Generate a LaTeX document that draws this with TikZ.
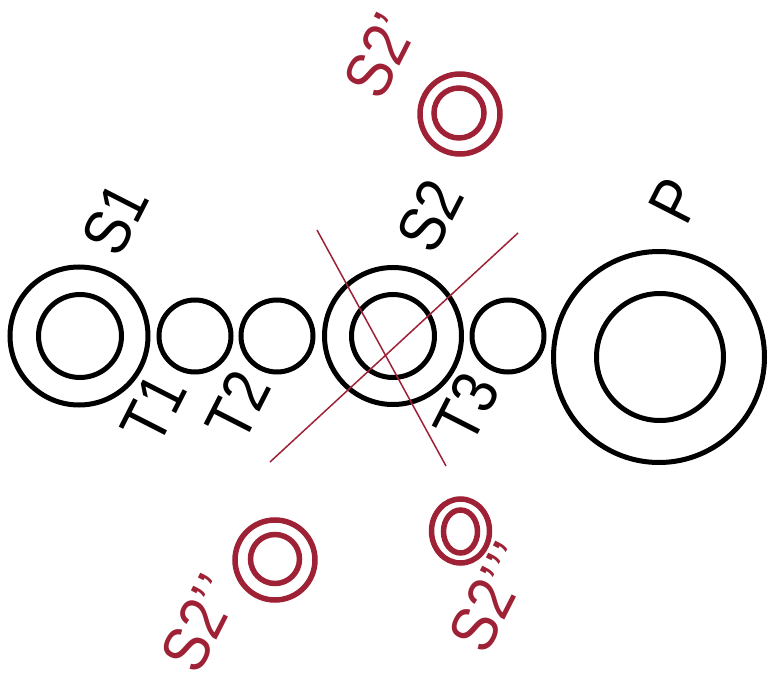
\documentclass[tikz,border=0pt]{standalone}
\usepackage{fontspec}
\setmainfont{Liberation Sans}[FakeStretch=0.87]
\usetikzlibrary{shapes.geometric, positioning, calc}
\definecolor{wine}{RGB}{158,33,54}
\tikzset{
    ring/.style={draw=black, line width=5pt, circle, inner sep=0pt, minimum size=#1},
    redring/.style={draw=wine, line width=5.5pt, circle, inner sep=0pt, minimum size=#1},
    redoval/.style={draw=wine, line width=5.5pt, ellipse, inner sep=0pt},
    tag/.style={rotate=63, inner sep=0pt, font=\fontsize{65}{65}\selectfont},
    redtag/.style={tag, text=wine},
    crossline/.style={draw=wine, line width=1.5pt}
}
\begin{document}
\begin{tikzpicture}[x=1pt, y=-1pt]
        \useasboundingbox (0,0) rectangle (769,682);
        \node [ring=138pt] (s1) at (79,336) {};
        \node [ring=83pt] (s1in) at (80,336) {};
        \node [ring=72pt] (t1) at (195,336) {};
        \node [ring=72pt] (t2) at (277,336) {};
        \node [ring=137pt] (s2) at (393,336) {};
        \node [ring=83pt] (s2in) at (393,336) {};
        \node [ring=72pt] (t3) at (508,336) {};
        \node [ring=211pt] (p) at (659,357) {};
        \node [ring=127pt] (pin) at (660,357) {};
        \node [tag] (s1lbl) at (115,219) {S1};
        \node [tag] (t1lbl) at (154,409) {T1};
        \node [tag] (t2lbl) at (238,406) {T2};
        \node [tag] (s2lbl) at (430,216) {S2};
        \node [tag] (t3lbl) at (467,408) {T3};
        \node [tag] (plbl) at (675,201) {P};
        \coordinate (crossAtop) at (317,230);
        \coordinate (crossAbot) at (446,466);
        \coordinate (crossBtop) at (518,233);
        \coordinate (crossBbot) at (270,462);
        \draw [crossline] (crossAtop) -- (crossAbot);
        \draw [crossline] (crossBtop) -- (crossBbot);
        \node [redring=80pt] (sa) at (460,114) {};
        \node [redring=50pt] (sain) at (459,113) {};
        \node [redtag] (salbl) at (380,56) {S2’};
        \node [redring=80pt] (sb) at (275,560) {};
        \node [redring=49pt] (sbin) at (275,559) {};
        \node [redtag] (sblbl) at (200,623) {S2’\kern2pt’};
        \node [redoval, minimum width=58pt, minimum height=64pt] (sc) at (460.5,531) {};
        \node [redoval, minimum width=34pt, minimum height=43pt] (scin) at (460.5,531.5) {};
        \node [redtag] (sclbl) at (492,597) {S2’\kern2pt’\kern2pt’};
    \end{tikzpicture}
\end{document}
